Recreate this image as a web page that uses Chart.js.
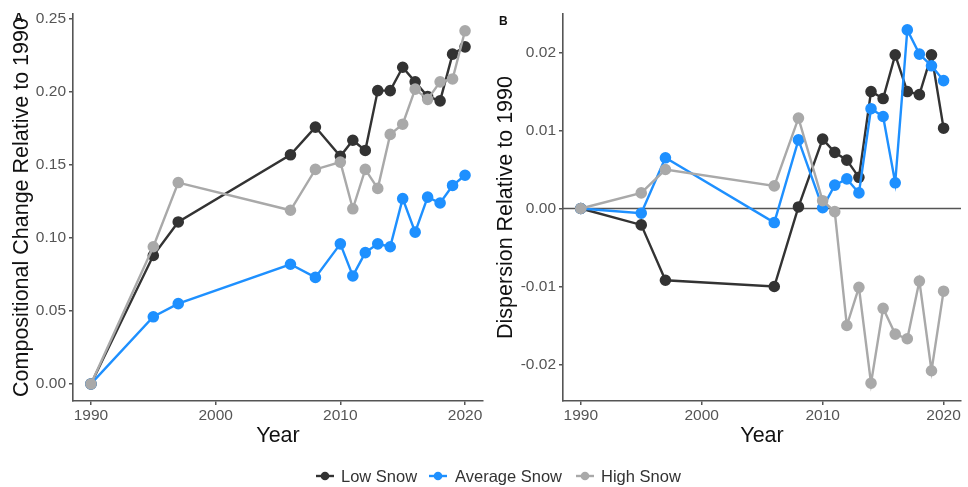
<!DOCTYPE html>
<html>
<head>
<meta charset="utf-8">
<script src="https://cdn.jsdelivr.net/npm/chart.js@4/dist/chart.umd.min.js"></script>
<style>
  html, body { margin: 0; padding: 0; background: #fff; }
  body { width: 968px; height: 487px; position: relative; overflow: hidden; font-family: "Liberation Sans", Arial, sans-serif; }
  #wrapA { position: absolute; left: 0; top: 0; width: 490px; height: 487px; }
  #wrapB { position: absolute; left: 490px; top: 0; width: 478px; height: 487px; }
  .tag { position: absolute; font-weight: bold; color: #111; }
  .leg { position: absolute; top: 466px; font-size: 16.5px; color: #333; line-height: 20px; }
  .glyph { position: absolute; top: 468px; }
</style>
</head>
<body>
<div id="wrapA"><canvas id="chartA" width="490" height="487"></canvas></div>
<div id="wrapB"><canvas id="chartB" width="478" height="487"></canvas></div>
<div class="tag" style="left:14px;top:10px;font-size:13px;">A</div>
<div class="tag" style="left:499px;top:14px;font-size:12px;">B</div>
<div id="legend"></div>
<script>
// ---- data ----
const years = [1990, 1995, 1997, 2006, 2008, 2010, 2011, 2012, 2013, 2014, 2015, 2016, 2017, 2018, 2019, 2020];
const seriesNames = ["Low Snow", "Average Snow", "High Snow"];

const compLow  = [0, 0.088, 0.111, 0.157, 0.176, 0.156, 0.167, 0.160, 0.201, 0.201, 0.217, 0.207, 0.197, 0.194, 0.226, 0.231];
const compAvg  = [0, 0.046, 0.055, 0.082, 0.073, 0.096, 0.074, 0.090, 0.096, 0.094, 0.127, 0.104, 0.128, 0.124, 0.136, 0.143];
const compHigh = [0, 0.094, 0.138, 0.119, 0.147, 0.152, 0.120, 0.147, 0.134, 0.171, 0.178, 0.202, 0.195, 0.207, 0.209, 0.242];

const dispLow  = [0, -0.0021, -0.0092, -0.0100, 0.0002, 0.0089, 0.0072, 0.0062, 0.0040, 0.0150, 0.0141, 0.0197, 0.0150, 0.0146, 0.0197, 0.0103];
const dispAvg  = [0, -0.0006, 0.0065, -0.0018, 0.0088, 0.0001, 0.0030, 0.0038, 0.0020, 0.0128, 0.0118, 0.0033, 0.0229, 0.0198, 0.0183, 0.0164];
const dispHigh = [0, 0.0020, 0.0050, 0.0029, 0.0116, 0.0010, -0.0004, -0.0150, -0.0101, -0.0224, -0.0128, -0.0161, -0.0167, -0.0093, -0.0208, -0.0106];

const xTicks = [1990, 2000, 2010, 2020];
const yTicksA = [0.00, 0.05, 0.10, 0.15, 0.20, 0.25];
const yTicksB = [-0.02, -0.01, 0.00, 0.01, 0.02];

const colors = ["#333333", "#1E90FF", "#A9A9A9"];

// ---- helpers ----
const FONT = "'Liberation Sans', Arial, sans-serif";
function pts(vals) { return years.map((y, i) => ({ x: y, y: vals[i] })); }
function makeDatasets(arrs) {
  return arrs.map((a, i) => ({
    label: seriesNames[i],
    data: pts(a),
    borderColor: colors[i],
    backgroundColor: colors[i],
    pointBackgroundColor: colors[i],
    pointBorderColor: colors[i],
    borderWidth: 2.4,
    pointRadius: 4.6,
    pointHoverRadius: 4.6,
    tension: 0,
    order: 3 - i
  }));
}
function axisCommon(tickVals, fmt) {
  return {
    type: 'linear',
    afterBuildTicks: s => { s.ticks = tickVals.map(v => ({ value: v })); },
    ticks: { callback: fmt, color: '#555', font: { family: FONT, size: 15.5 }, autoSkip: false, maxRotation: 0 },
    grid: { drawOnChartArea: false, drawTicks: true, tickLength: 4, tickColor: '#555', lineWidth: 1.5 },
    border: { display: true, color: '#555', width: 1.6 }
  };
}
const zeroLine = {
  id: 'zeroLine',
  beforeDatasetsDraw(chart, args, opts) {
    if (!opts.enabled) return;
    const { ctx, chartArea, scales } = chart;
    const y = scales.y.getPixelForValue(0);
    ctx.save();
    ctx.strokeStyle = '#555';
    ctx.lineWidth = 1.4;
    ctx.beginPath();
    ctx.moveTo(chartArea.left, y);
    ctx.lineTo(chartArea.right, y);
    ctx.stroke();
    ctx.restore();
  }
};

function build(canvasId, dataArrs, yMin, yMax, yTicks, yTitle, yTitlePad, padRight, xMin, xMax, zero) {
  const xs = axisCommon(xTicks, v => String(v));
  xs.min = xMin; xs.max = xMax;
  xs.ticks.padding = 1;
  xs.title = { display: true, text: 'Year', color: '#111', font: { family: FONT, size: 21.5 }, padding: { top: 0, bottom: 4 } };
  xs.afterFit = s => { s.height = 52; };
  const ys = axisCommon(yTicks, v => v.toFixed(2));
  ys.min = yMin; ys.max = yMax;
  ys.ticks.padding = 3;
  ys.title = { display: true, text: yTitle, color: '#111', font: { family: FONT, size: 21.5 }, padding: { top: yTitlePad, bottom: 0 } };
  ys.afterFit = s => { s.width = 73; };
  return new Chart(document.getElementById(canvasId), {
    type: 'line',
    data: { datasets: makeDatasets(dataArrs) },
    options: {
      responsive: false,
      animation: false,
      devicePixelRatio: 1,
      layout: { padding: { left: 0, top: 14, right: padRight, bottom: 34 } },
      plugins: { legend: { display: false }, tooltip: { enabled: false }, zeroLine: { enabled: zero } },
      scales: { x: xs, y: ys }
    },
    plugins: [zeroLine]
  });
}

build('chartA', [compLow, compAvg, compHigh], -0.0117, 0.2535, yTicksA,
      'Compositional Change Relative to 1990', 9, 7, 1988.56, 2021.44, false);
build('chartB', [dispLow, dispAvg, dispHigh], -0.02468, 0.02494, yTicksB,
      'Dispersion Relative to 1990', 3, 1, 1988.53, 2021.44, true);

// ---- shared legend ----
const legPos = [{ g: 316, t: 341 }, { g: 429, t: 455 }, { g: 576, t: 601 }];
const legend = document.getElementById('legend');
seriesNames.forEach((name, i) => {
  const svg = `<svg class="glyph" style="left:${legPos[i].g}px" width="18" height="16"><line x1="0" y1="8" x2="18" y2="8" stroke="${colors[i]}" stroke-width="2.4"/><circle cx="9" cy="8" r="4.3" fill="${colors[i]}"/></svg>`;
  legend.insertAdjacentHTML('beforeend', svg);
  legend.insertAdjacentHTML('beforeend', `<div class="leg" style="left:${legPos[i].t}px">${name}</div>`);
});
</script>
</body>
</html>
